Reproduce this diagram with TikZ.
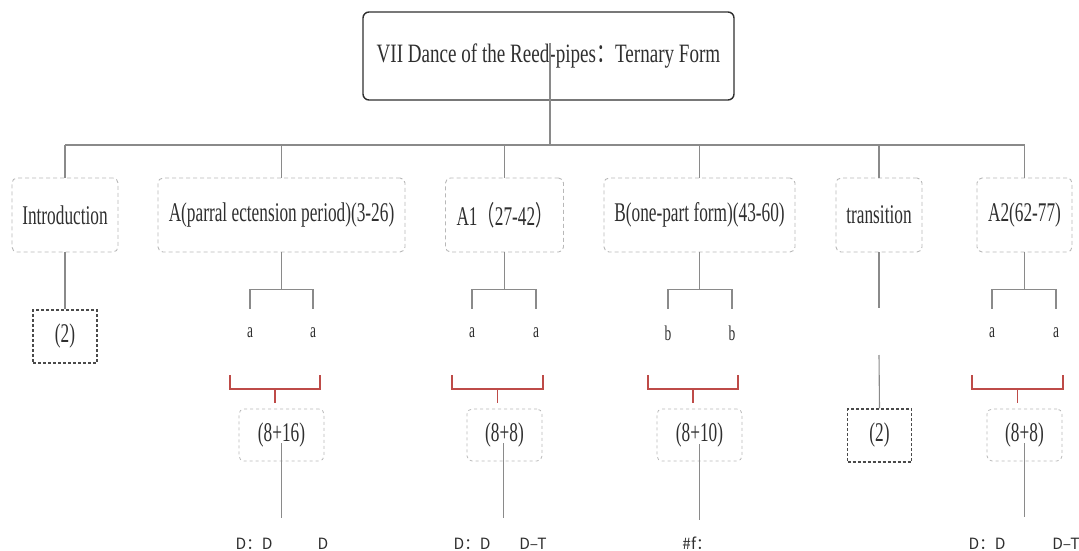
\documentclass[tikz,border=0pt]{standalone}
\usepackage{fontspec}
\setmainfont{Liberation Serif}[FakeStretch=0.64]
\newfontfamily\titlefont{Liberation Serif}[FakeStretch=0.72]
\newfontfamily\titlecjk{Noto Sans CJK SC}[FakeStretch=0.72]
\newfontfamily\cjkn{Noto Sans CJK SC}[FakeStretch=0.64]
\newfontfamily\cjk{Noto Sans CJK SC}
\definecolor{ink}{HTML}{2F2F2F}
\definecolor{linegray}{HTML}{8A8A8A}
\definecolor{boxgray}{HTML}{B8B8B8}
\definecolor{darkdash}{HTML}{4A4A4A}
\definecolor{bracketred}{RGB}{190,75,72}
\tikzset{
  conn/.style={draw=linegray, line width=1.1pt},
  titlebox/.style={draw=ink, line width=1.4pt, rounded corners=6pt, inner sep=0pt,
    minimum width=371pt, minimum height=88pt, text=ink, font=\titlefont\fontsize{26.5}{30}\selectfont},
  part/.style={draw=boxgray, dash pattern=on 4pt off 3pt, rounded corners=5pt, line width=0.9pt,
    minimum height=74pt, inner sep=0pt, text=ink, font=\fontsize{27}{30}\selectfont},
  phrase/.style={draw=boxgray, dash pattern=on 3pt off 3pt, rounded corners=5pt, line width=0.8pt,
    minimum height=52pt, inner sep=0pt, text=ink, font=\fontsize{27}{30}\selectfont},
  bars/.style={draw=darkdash, dash pattern=on 3pt off 2pt, line width=1.3pt, inner sep=0pt,
    minimum width=64pt, minimum height=53pt, text=ink, font=\fontsize{27}{30}\selectfont},
  motif/.style={inner sep=0pt, minimum height=48pt, text=ink, font=\fontsize{21}{22}\selectfont},
  key/.style={inner sep=0pt, anchor=base, text=ink, font=\cjk\fontsize{15.5}{16}\selectfont},
  redbr/.style={draw=bracketred, line width=1.3pt},
}
\begin{document}
\begin{tikzpicture}[x=1pt, y=-1pt]
\useasboundingbox (0,0) rectangle (1079,551);

% movement title
\node[titlebox] (title) at (548.5,56) {VII Dance of the Reed-pipes{\titlecjk ：}Ternary Form};
\coordinate (ttop) at (550,43);
\coordinate (bus) at (550,145);

% sections
\node[part, minimum width=106pt] (intro) at (65,215) {Introduction};
\node[part, minimum width=247pt] (secA) at (281.5,215) {A(parral ectension period)(3-26)};
\node[part, minimum width=118pt] (secA1) at (504.5,215) {A1{\cjkn （}27-42{\cjkn ）}};
\node[part, minimum width=191pt] (secB) at (699.5,215) {B(one-part form)(43-60)};
\node[part, minimum width=86pt] (trans) at (879,215) {transition};
\node[part, minimum width=95pt] (secA2) at (1024.5,215) {A2(62-77)};

\draw[conn] (ttop) -- (bus);
\draw[conn] (intro.north |- bus) -- (secA2.north |- bus);
\foreach \n in {intro,secA,secA1,secB,trans,secA2}
  \draw[conn] (\n.north |- bus) -- (\n.north);

% bar counts of introduction and transition
\node[bars] (introbars) at (65,336.5) {(2)};
\draw[conn] (intro.south) -- (introbars.north);
\node[bars] (transbars) at (879.5,435.5) {(2)};
\coordinate (tgapA) at (879,308);
\coordinate (tgapB) at (879,355);
\draw[conn] (trans.south) -- (tgapA);
\draw[conn] (tgapB) -- (transbars.north);

% phrase letters
\node[motif] (mA1) at (250,333) {a};
\node[motif] (mA2) at (313,333) {a};
\node[motif] (mB1) at (472,333) {a};
\node[motif] (mB2) at (536,333) {a};
\node[motif] (mC1) at (668,333) {b};
\node[motif] (mC2) at (732,333) {b};
\node[motif] (mD1) at (992,333) {a};
\node[motif] (mD2) at (1056,333) {a};

\draw[conn] (secA.south) -- ++(0,38);
\draw[conn] (mA1.north) -- ++(0,-19) -| (mA2.north);
\draw[conn] (secA1.south) -- ++(0,38);
\draw[conn] (mB1.north) -- ++(0,-19) -| (mB2.north);
\draw[conn] (secB.south) -- ++(0,38);
\draw[conn] (mC1.north) -- ++(0,-19) -| (mC2.north);
\draw[conn] (secA2.south) -- ++(0,38);
\draw[conn] (mD1.north) -- ++(0,-19) -| (mD2.north);

% red brackets grouping the phrases
\foreach \x/\w in {275/45, 497.5/45.5, 693/45, 1017.5/45.5}{
  \draw[redbr] (\x-\w,375) -- (\x-\w,389) -- (\x+\w,389) -- (\x+\w,375);
  \draw[redbr] (\x,389) -- (\x,403);
}

% phrase lengths
\node[phrase, minimum width=85pt] (pA) at (281.5,435) {(8+16)};
\node[phrase, minimum width=75pt] (pA1) at (504.5,435) {(8+8)};
\node[phrase, minimum width=85pt] (pB) at (699.5,435) {(8+10)};
\node[phrase, minimum width=75pt] (pA2) at (1024.5,435) {(8+8)};

\draw[conn] (pA.center) ++(0,8) -- ++(0,75);
\draw[conn] (pA1.center) ++(-1,8) -- ++(0,75);
\draw[conn] (pB.center) ++(0,9) -- ++(0,76);
\draw[conn] (pA2.center) ++(0,8) -- ++(0,74);

% keys
\node[key] (kA1) at (254,549) {D：D};
\node[key] (kA2) at (323,549) {D};
\node[key] (kB1) at (472,549) {D：D};
\node[key] (kB2) at (533,549) {D–T};
\node[key] (kC1) at (697,549) {\#f：};
\node[key] (kD1) at (987,549) {D：D};
\node[key] (kD2) at (1066,549) {D–T};
\end{tikzpicture}
\end{document}
